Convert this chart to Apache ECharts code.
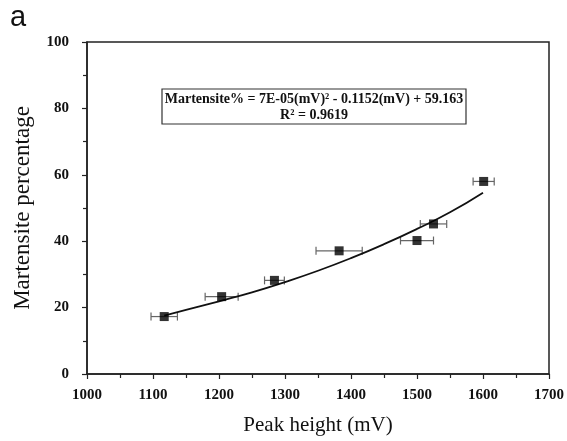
<!DOCTYPE html>
<html>
<head>
<meta charset="utf-8">
<script src="https://cdn.jsdelivr.net/npm/echarts@6/dist/echarts.min.js"></script>
<style>
  html, body { margin: 0; padding: 0; background: #fff; }
  #chart { width: 567px; height: 441px; }
</style>
</head>
<body>
<div id="chart"></div>
<script>
// measured points
var peakHeight = [1117, 1204, 1284, 1382, 1500, 1525, 1601];
var martensite = [17.3, 23.3, 28.2, 37.1, 40.2, 45.2, 58.0];
var errX = [20, 25, 15, 35, 25, 20, 16];

// trend line
var fitX = [1117, 1150, 1200, 1250, 1300, 1350, 1400, 1450, 1500, 1550, 1600];
var fitY = [17.6, 19.3, 21.9, 24.6, 27.7, 31.1, 34.9, 39.1, 43.7, 48.7, 54.6];

var xTicks = [1000, 1100, 1200, 1300, 1400, 1500, 1600, 1700];
var yTicks = [0, 20, 40, 60, 80, 100];

var serif = '"Liberation Serif", "DejaVu Serif", serif';

var chart = echarts.init(document.getElementById('chart'));

var pts = peakHeight.map(function (x, i) { return [x, martensite[i]]; });
var bars = peakHeight.map(function (x, i) { return [x - errX[i], x + errX[i], martensite[i]]; });
var fit = fitX.map(function (x, i) { return [x, fitY[i]]; });

chart.setOption({
  animation: false,
  grid: {
    left: 87, right: 16, top: 42, bottom: 67,
    show: true, borderColor: '#222', borderWidth: 1.5
  },
  xAxis: {
    type: 'value',
    min: xTicks[0], max: xTicks[xTicks.length - 1], interval: 100,
    name: 'Peak height (mV)',
    nameLocation: 'middle', nameGap: 41,
    nameTextStyle: { fontFamily: serif, fontSize: 21, color: '#111' },
    axisLine: { lineStyle: { color: '#222', width: 1.5 } },
    axisTick: { inside: false, length: 5, lineStyle: { color: '#222', width: 1.2 } },
    minorTick: { show: true, splitNumber: 2, length: 4, lineStyle: { color: '#222', width: 1.2 } },
    axisLabel: {
      fontFamily: serif, fontWeight: 'bold', fontSize: 15, color: '#111', margin: 14,
      formatter: function (v) { return String(v); }
    },
    splitLine: { show: false }
  },
  yAxis: {
    type: 'value',
    min: yTicks[0], max: yTicks[yTicks.length - 1], interval: 20,
    name: 'Martensite percentage',
    nameLocation: 'middle', nameGap: 53,
    nameTextStyle: { fontFamily: serif, fontSize: 23, color: '#111' },
    axisLine: { lineStyle: { color: '#222', width: 1.5 } },
    axisTick: { inside: false, length: 5, lineStyle: { color: '#222', width: 1.2 } },
    minorTick: { show: true, splitNumber: 2, length: 4, lineStyle: { color: '#222', width: 1.2 } },
    axisLabel: { fontFamily: serif, fontWeight: 'bold', fontSize: 15, color: '#111', margin: 18 },
    splitLine: { show: false }
  },
  series: [
    {
      type: 'custom',
      data: bars,
      z: 2,
      renderItem: function (params, api) {
        var a = api.coord([api.value(0), api.value(2)]);
        var b = api.coord([api.value(1), api.value(2)]);
        var st = { stroke: '#666', lineWidth: 1.2 };
        return {
          type: 'group',
          children: [
            { type: 'line', shape: { x1: a[0], y1: a[1], x2: b[0], y2: b[1] }, style: st },
            { type: 'line', shape: { x1: a[0], y1: a[1] - 4, x2: a[0], y2: a[1] + 4 }, style: st },
            { type: 'line', shape: { x1: b[0], y1: b[1] - 4, x2: b[0], y2: b[1] + 4 }, style: st }
          ]
        };
      }
    },
    {
      type: 'line',
      data: fit,
      smooth: true,
      symbol: 'none',
      z: 3,
      lineStyle: { color: '#111', width: 1.8 }
    },
    {
      type: 'scatter',
      data: pts,
      symbol: 'rect',
      symbolSize: 9,
      z: 4,
      itemStyle: { color: '#000' }
    }
  ],
  graphic: [
    {
      type: 'text', x: 10, y: 3,
      style: { text: 'a', font: '29px "Liberation Sans", Arial, sans-serif', fill: '#111' }
    },
    {
      type: 'rect', x: 162, y: 89,
      shape: { width: 304, height: 35 },
      style: { fill: '#fff', stroke: '#333', lineWidth: 1.2 },
      z: 10
    },
    {
      type: 'text', x: 314, y: 91, z: 11,
      style: {
        text: 'Martensite% = 7E-05(mV)² - 0.1152(mV) + 59.163\nR² = 0.9619',
        font: 'bold 14px ' + serif,
        fill: '#111',
        textAlign: 'center',
        textVerticalAlign: 'top',
        lineHeight: 16
      }
    }
  ]
});
</script>
</body>
</html>
